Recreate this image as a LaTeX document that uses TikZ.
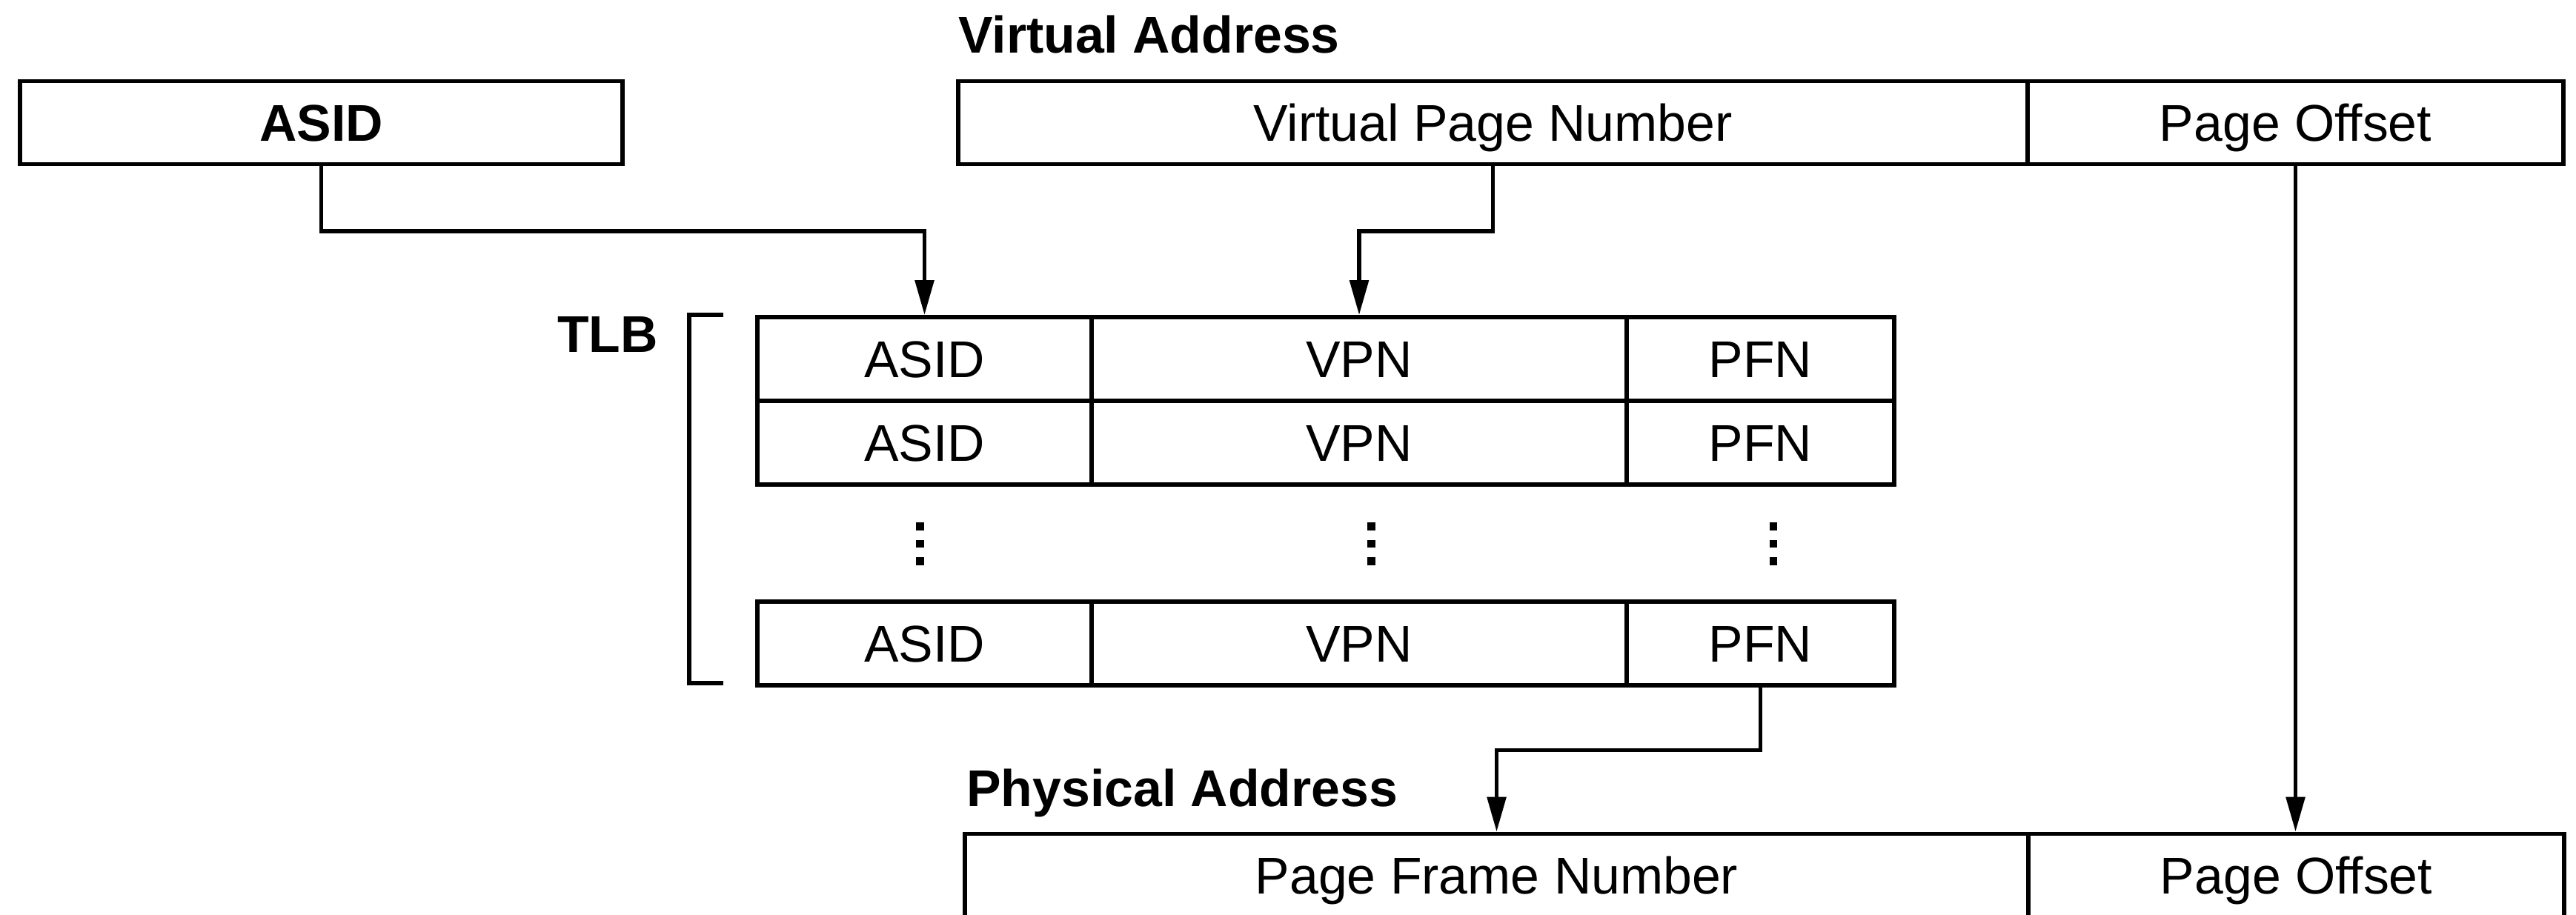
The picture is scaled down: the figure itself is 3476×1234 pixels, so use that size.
\documentclass[tikz,border=0pt]{standalone}
\usepackage{fontspec}
\setmainfont{Liberation Sans}
\usetikzlibrary{arrows.meta}
\begin{document}
\begin{tikzpicture}[x=0.2mm,y=-0.2mm,
  cell/.style={draw, line width=3.2pt, rectangle, inner sep=0pt, minimum height=22.4mm,
    text height=10mm, text depth=0pt, font=\fontsize{39.7}{48}\selectfont},
  cellb/.style={cell, font=\fontsize{39.7}{48}\selectfont\bfseries},
  tlbcell/.style={cell, minimum height=22.6mm},
  arr/.style={line width=3.2pt, line join=miter, -{Triangle[length=9.4mm,width=5.0mm]}},
  lbl/.style={inner sep=0pt, font=\fontsize{39.7}{48}\selectfont\bfseries}]
\useasboundingbox (0,0) rectangle (3476,1234);
\clip (0,0) rectangle (3476,1234);

% top row
\node[cellb, minimum width=162.6mm] (asid) at (433.5,165.5) {ASID};
\node[cell, minimum width=288.6mm] (vpn) at (2014.5,165.5) {Virtual Page Number};
\node[cell, minimum width=144.6mm] (voff) at (3097.5,165.5) {Page Offset};
\node[lbl, anchor=base west] (valbl) at (1293,71) {Virtual Address};

% TLB rows
\node[tlbcell, minimum width=90.2mm] (t1a) at (1247.5,484.5) {ASID};
\node[tlbcell, minimum width=144.4mm] (t1v) at (1834,484.5) {VPN};
\node[tlbcell, minimum width=72.2mm] (t1p) at (2375.5,484.5) {PFN};
\node[tlbcell, minimum width=90.2mm] (t2a) at (1247.5,597.5) {ASID};
\node[tlbcell, minimum width=144.4mm] (t2v) at (1834,597.5) {VPN};
\node[tlbcell, minimum width=72.2mm] (t2p) at (2375.5,597.5) {PFN};
\node[tlbcell, minimum width=90.2mm] (t3a) at (1247.5,868.5) {ASID};
\node[tlbcell, minimum width=144.4mm] (t3v) at (1834,868.5) {VPN};
\node[tlbcell, minimum width=72.2mm] (t3p) at (2375.5,868.5) {PFN};

% vertical ellipsis
\foreach \x in {1241.5,1850.7,2393}
  \foreach \y in {710.5,734,757.3}
    \fill (\x-5.3,\y-5.3) rectangle (\x+5.3,\y+5.3);

% TLB bracket and label
\draw[line width=3.2pt, line join=miter] (976,425) -- (930,425) -- (930,922) -- (976,922);
\node[lbl, anchor=base east] (tlblbl) at (888,475) {TLB};

% physical address
\node[cell, minimum width=287mm] (pfn) at (2019.5,1181.5) {Page Frame Number};
\node[cell, minimum width=144.6mm] (poff) at (3098.5,1181.5) {Page Offset};
\node[lbl, anchor=base west] (palbl) at (1304,1088) {Physical Address};

% connectors
\coordinate (hA) at (0,312);
\coordinate (hB) at (0,1012.5);
\draw[arr] (asid.south) -- (asid.south |- hA) -- (t1a.north |- hA) -- (t1a.north);
\draw[arr] (vpn.south) -- (vpn.south |- hA) -- (t1v.north |- hA) -- (t1v.north);
\draw[arr] (t3p.south) -- (t3p.south |- hB) -- (pfn.north |- hB) -- (pfn.north);
\draw[arr] (voff.south) -- (voff.south |- poff.north);
\end{tikzpicture}
\end{document}
